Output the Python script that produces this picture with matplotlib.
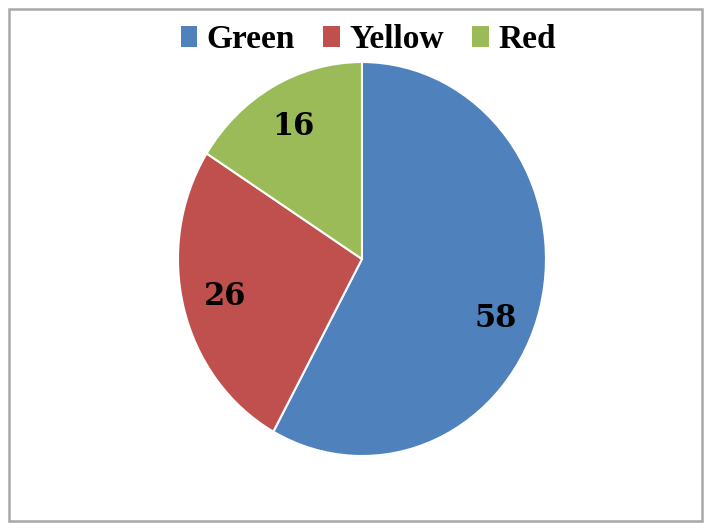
import matplotlib.pyplot as plt
from matplotlib.patches import Patch, Rectangle

categories = ['Green', 'Yellow', 'Red']
values = [58, 26, 16]
colors = ['#4F81BD', '#C0504D', '#9BBB59']

fig = plt.figure(figsize=(7.04, 5.23), dpi=100)

# chart frame
fig.patches.append(Rectangle((0.0128, 0.004), 0.9845, 0.979, transform=fig.transFigure,
                             fill=False, edgecolor='#a8a8a8', linewidth=1.8))

ax = fig.add_axes([0.2528, 0.1281, 0.5227, 0.7533])
wedges, texts = ax.pie(values, labels=[str(v) for v in values], colors=colors,
                       startangle=90, counterclock=False, labeldistance=0.77,
                       wedgeprops=dict(edgecolor='white', linewidth=1.5),
                       textprops=dict(fontsize=22, color='black', family='DejaVu Serif',
                                      weight='bold'))
for t in texts:
    t.set_horizontalalignment('center')
    t.set_verticalalignment('center')
# big slice label sits a bit lower, as in the best-fit placement
texts[0].set_position((0.728, -0.30))
ax.set_aspect('auto')
ax.set_xlim(-1, 1)
ax.set_ylim(-1, 1)

handles = [Patch(facecolor=c, edgecolor='none') for c in colors]
fig.legend(handles, categories, loc='center', bbox_to_anchor=(0.523, 0.924), ncol=3,
           frameon=False, prop=dict(family='Liberation Serif', weight='bold', size=24),
           handlelength=0.5, handleheight=0.6, handletextpad=0.28, columnspacing=0.85)

fig.savefig('out.png', dpi=100)
